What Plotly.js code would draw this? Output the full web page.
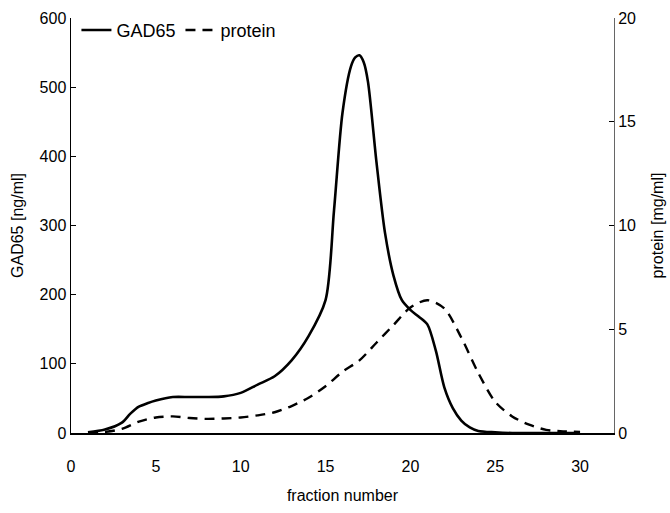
<!DOCTYPE html>
<html><head><meta charset="utf-8">
<script src="https://cdn.plot.ly/plotly-3.0.1.min.js"></script>
<style>html,body{margin:0;padding:0;background:#fff}#chart{width:670px;height:513px}</style>
</head><body><div id="chart"></div>
<script>
const gadFraction = [1,2,3,3.5,4,4.5,5,6,7,8,9,10,11,12,13,14,15,15.5,16,16.5,16.75,17,17.25,17.5,18,18.5,19,19.5,20,20.5,21,21.5,22,22.5,23,23.5,24,25,26,27,28,29,30];
const gadValues   = [1,5,15,28,38,43,47,52,52,52,53,58,70,82,105,140,192,322,463,530,543,546,536,508,392,290,228,192,178,168,157,119,66,36,18,8,3,1,0,0,0,0,0];
const protFraction = [1,2,3,4,5,6,7,8,9,10,11,12,13,14,15,16,17,18,19,20,21,22,23,24,25,26,27,28,29,30];
const protValues   = [0,0.05,0.2,0.55,0.75,0.8,0.72,0.68,0.7,0.75,0.85,1.0,1.3,1.7,2.25,2.95,3.5,4.35,5.2,6.05,6.4,6.0,4.6,2.9,1.5,0.8,0.4,0.15,0.08,0.05];
const xTicks = [0,5,10,15,20,25,30];
const yLeftTicks = [0,100,200,300,400,500,600];
const yRightTicks = [0,5,10,15,20];

const font = {family:'"Liberation Sans", Arial, sans-serif', size:16, color:'#000'};
const legendFont = {family:'"Liberation Sans", Arial, sans-serif', size:18, color:'#000'};
const traces = [
  {x:gadFraction, y:gadValues, name:'GAD65', mode:'lines', line:{color:'#000', width:2.6, shape:'spline', smoothing:0.8}, yaxis:'y'},
  {x:protFraction, y:protValues, name:'protein', mode:'lines', line:{color:'#000', width:2.4, dash:'10px,7px', shape:'spline', smoothing:0.8}, yaxis:'y2'}
];
const layout = {
  width:670, height:513,
  margin:{l:71, r:56, t:15, b:80},
  paper_bgcolor:'#fff', plot_bgcolor:'#fff',
  font:font,
  showlegend:true,
  legend:{orientation:'h', x:0.01, y:1.015, xanchor:'left', yanchor:'top', bgcolor:'rgba(0,0,0,0)', font:legendFont, itemwidth:30, tracegroupgap:0},
  xaxis:{range:[0,32], tickvals:xTicks, ticktext:xTicks.map(String), showgrid:false, zeroline:false, showline:true, linecolor:'#000', linewidth:1.5, ticks:'', ticklabelstandoff:18,
         title:{text:'fraction number', font:font, standoff:16}},
  yaxis:{range:[0,600], tickvals:yLeftTicks, ticktext:yLeftTicks.map(String), showgrid:false, zeroline:false, showline:true, linecolor:'#000', linewidth:1.5, ticks:'inside', ticklen:5, tickcolor:'#000',
         title:{text:'GAD65 [ng/ml]', font:font, standoff:12}},
  yaxis2:{range:[0,20], overlaying:'y', side:'right', tickvals:yRightTicks, ticktext:yRightTicks.map(String), showgrid:false, zeroline:false, showline:true, linecolor:'#666', linewidth:1, ticks:'inside', ticklen:5, tickcolor:'#000',
         title:{text:'protein [mg/ml]', font:font, standoff:16}}
};
Plotly.newPlot('chart', traces, layout, {displayModeBar:false, staticPlot:true});
</script></body></html>
